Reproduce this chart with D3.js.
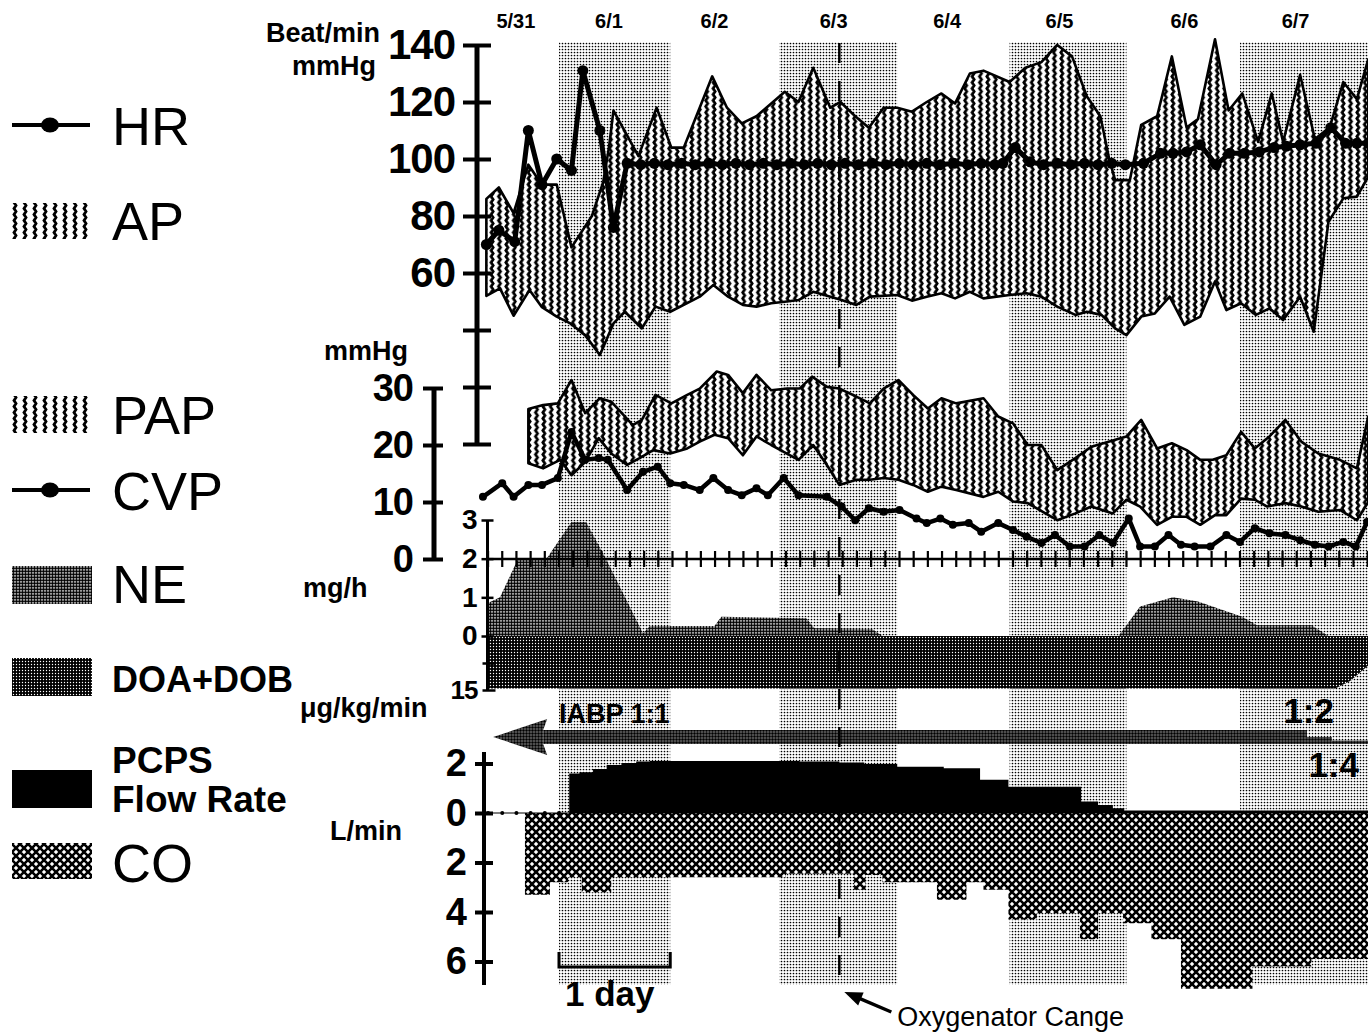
<!DOCTYPE html>
<html>
<head>
<meta charset="utf-8">
<script src="https://cdn.jsdelivr.net/npm/d3@7"></script>
<style>
  body { margin: 0; background: #fff; }
  svg { display: block; }
  text { font-family: "Liberation Sans", Arial, Helvetica, sans-serif; }
</style>
</head>
<body>
<svg id="chart" width="1368" height="1036"></svg>
<script>
// time is in days counted from 5/31 00:00
const dayLabels = ["5/31", "6/1", "6/2", "6/3", "6/4", "6/5", "6/6", "6/7"];
const dayLabelPos = [0.62, 1.44, 2.37, 3.42, 4.42, 5.41, 6.51, 7.49];
const shadedDays = [[1.0, 1.98], [2.94, 3.98], [4.97, 6.0], [7.0, 8.2]];
const oxygenatorChange = 3.47;

// [day, value]
const apSys = [[0.36,86],[0.47,90],[0.60,81],[0.73,98],[0.85,91],[0.98,91],[1.11,69],[1.29,80],[1.39,92],[1.44,104],
  [1.48,117],[1.70,101],[1.86,118],[1.99,104],[2.10,104],[2.35,129],[2.48,118],[2.61,112.5],[2.74,115],[2.99,123.6],
  [3.11,120],[3.24,132],[3.39,118],[3.48,120],[3.61,115],[3.73,111],[3.86,118],[3.98,118],[4.11,116.6],[4.24,120],
  [4.37,123],[4.49,119.5],[4.62,130],[4.74,131],[4.97,127],[5.11,132],[5.25,134],[5.39,140],[5.52,136],[5.65,122],
  [5.77,115],[5.85,99.6],[5.90,92.6],[6.03,92.6],[6.13,112],[6.27,115],[6.40,136],[6.53,111],[6.63,114],[6.78,142],
  [6.90,117],[7.02,123],[7.16,106],[7.28,123],[7.38,106],[7.53,129.5],[7.66,107],[7.79,111],[7.91,127],[8.03,121],[8.13,135]];
const apDia = [[0.36,52],[0.48,54.6],[0.60,45],[0.74,54],[0.85,48],[0.98,44.7],[1.10,42.3],[1.23,38.2],[1.36,31.2],[1.48,42.3],
  [1.58,46.4],[1.73,40.6],[1.85,48.2],[1.98,46.4],[2.24,51.7],[2.36,55.8],[2.49,51.7],[2.62,48.8],[2.74,48.2],[2.87,49.4],
  [2.99,49.9],[3.11,50.5],[3.24,53.4],[3.49,50.5],[3.62,48.8],[3.74,51.7],[3.98,52.3],[4.11,50.3],[4.24,51.7],[4.37,52.9],
  [4.49,51.1],[4.62,53.4],[4.74,51.1],[4.97,52.3],[5.12,52.9],[5.25,51.7],[5.39,48.2],[5.55,45.3],[5.65,46.4],[5.78,45.3],
  [5.90,40.6],[6.00,38.2],[6.13,44.7],[6.25,45.8],[6.38,51.7],[6.51,41.8],[6.65,44.7],[6.78,57],[6.88,47],[7.01,49.4],
  [7.14,45.3],[7.26,47.6],[7.38,43.5],[7.53,51.7],[7.65,39.4],[7.78,78],[7.91,86.2],[8.03,86.8],[8.13,93.8]];
const hr = [[0.36,70],[0.47,75],[0.61,71],[0.73,110],[0.85,91],[0.98,100],[1.11,96],[1.21,131],[1.36,110],[1.48,76],
  [1.60,98.5],[1.72,98],[1.84,98.5],[1.96,98],[2.08,98.5],[2.20,98],[2.32,98.5],[2.44,98],[2.56,98.5],[2.68,98],
  [2.80,98.5],[2.92,98],[3.04,98.5],[3.16,98],[3.28,98.5],[3.40,98],[3.52,98.5],[3.64,98],[3.76,98.5],[3.88,98],
  [4.00,98.5],[4.12,98],[4.24,98.5],[4.36,98],[4.48,98.5],[4.60,98],[4.72,98.5],[4.84,98],[4.91,98.5],[5.02,104],
  [5.15,99],[5.27,98],[5.39,98.5],[5.51,98],[5.63,98.5],[5.75,98],[5.87,98.5],[5.99,98],[6.15,98.5],[6.30,102],
  [6.41,102],[6.53,102.5],[6.65,105],[6.79,98],[6.91,102],[7.04,102],[7.17,102.5],[7.30,104],[7.41,104.5],[7.53,105],
  [7.67,105.5],[7.80,111],[7.93,105.5],[8.03,105.5],[8.13,105.5]];

const papSys = [[0.73,26.3],[0.86,27],[0.99,27.3],[1.11,31.4],[1.23,25.6],[1.36,28.2],[1.46,27.6],[1.65,23.5],[1.73,24.4],
  [1.85,28.8],[1.99,27.3],[2.13,28.8],[2.24,29.9],[2.39,32.9],[2.49,32.3],[2.62,29.1],[2.74,32.3],[2.87,29.6],[3.01,29.9],
  [3.12,29.9],[3.23,32],[3.36,30.2],[3.47,29.9],[3.62,28.5],[3.74,27.3],[3.86,29.9],[3.99,31.4],[4.12,28.8],[4.25,26.4],
  [4.37,28.2],[4.50,27.3],[4.74,28.2],[4.87,25],[5.00,23.8],[5.13,20],[5.25,20],[5.39,15.6],[5.55,17.7],[5.69,19.7],
  [5.85,20.6],[6.00,21.5],[6.13,24.4],[6.27,19.4],[6.40,20.3],[6.53,19.1],[6.65,17.4],[6.76,17.4],[6.88,18.2],[7.01,22.3],
  [7.13,19.4],[7.26,21.5],[7.40,24.4],[7.54,20.6],[7.69,18.5],[7.88,17.4],[8.03,15.9],[8.13,25]];
const papDia = [[0.73,16.8],[0.86,15.9],[1.01,17.4],[1.11,14.7],[1.23,17],[1.35,21.2],[1.46,18.5],[1.60,16.5],[1.71,17.7],
  [1.83,19.1],[1.98,18.5],[2.13,19.4],[2.24,20.6],[2.37,21.8],[2.49,21.2],[2.62,18.2],[2.74,21.5],[2.87,20],[2.98,18.8],
  [3.11,17.4],[3.24,20],[3.36,16.5],[3.47,13],[3.62,13.9],[3.74,13.9],[3.86,14.2],[3.99,13.9],[4.12,13],[4.25,11.8],
  [4.37,12.7],[4.50,12.1],[4.74,10.9],[4.87,11.8],[5.00,10.1],[5.13,9.8],[5.39,6.8],[5.55,8],[5.69,9.2],[5.88,8],
  [6.00,10.4],[6.12,9.2],[6.27,6],[6.40,7.4],[6.53,7.4],[6.65,6],[6.78,7.7],[6.88,7.7],[7.01,10.6],[7.13,10.4],
  [7.24,9.2],[7.40,9.8],[7.54,9.2],[7.69,8.3],[7.88,8.6],[8.03,6.8],[8.13,10]];
const cvp = [[0.33,10.9],[0.50,13.3],[0.60,10.9],[0.73,13],[0.85,13],[0.99,14.2],[1.11,22.3],[1.23,17.4],[1.35,17.7],
  [1.43,17.4],[1.60,12.1],[1.74,15.3],[1.87,16.2],[1.98,13.3],[2.10,13],[2.24,12.1],[2.36,14.2],[2.49,12.1],[2.61,11.2],
  [2.74,12.4],[2.84,11.2],[2.98,14.2],[3.11,11.2],[3.36,10.9],[3.49,9.2],[3.61,6.8],[3.73,8.9],[3.86,8.3],[4.00,8.6],
  [4.15,7.1],[4.24,6.3],[4.36,7.1],[4.47,6],[4.61,6.3],[4.72,4.8],[4.87,6.3],[5.00,5.1],[5.12,3.9],[5.25,2.8],
  [5.37,4.2],[5.50,2.2],[5.63,2.2],[5.76,4.2],[5.88,2.8],[6.02,7.1],[6.12,2.2],[6.25,2.2],[6.37,4.2],[6.48,2.5],
  [6.60,2.2],[6.74,2.2],[6.88,4.2],[7.00,3],[7.13,5.4],[7.26,4.5],[7.40,4.2],[7.53,3.3],[7.66,2.5],[7.78,2.2],
  [7.91,3],[8.02,2.2],[8.12,6.5]];

// mg/h and µg/kg/min
const ne = [[0.37,0.85],[0.48,1.0],[0.64,2.0],[0.89,2.0],[1.11,2.95],[1.24,2.95],[1.42,1.96],[1.74,0.07],[1.80,0.26],
  [2.37,0.26],[2.43,0.5],[3.18,0.46],[3.25,0.2],[3.76,0.18],[3.85,0],[5.93,0],[6.12,0.76],[6.41,1.0],[6.63,0.89],
  [7.02,0.5],[7.15,0.28],[7.63,0.28],[7.78,0],[8.13,0]];
const doaDob = [[0.37,14.6],[7.84,14.6],[7.97,12.5],[8.13,8.2]];

// IABP assist ratio: support fraction 1, 1/2, 1/4
const iabpRatio = ["1:1", "1:2", "1:4"];
const iabpFrom = [0.42, 7.59, 7.81];
const iabpTo = [7.59, 7.81, 8.13];
const iabpSupport = [1, 0.5, 0.25];

// L/min, step values
const pcps = [[1.09,1.6],[1.18,1.65],[1.30,1.78],[1.42,1.94],[1.55,2.02],[1.68,2.08],[1.80,2.1],[3.12,2.08],[3.47,2.04],
  [3.69,1.98],[3.98,1.87],[4.39,1.81],[4.71,1.34],[4.96,1.06],[5.60,0.46],[5.75,0.32],[5.88,0.19],[5.98,0.1],[8.13,0.1]];
const co = [[0.70,3.3],[0.92,2.8],[1.08,2.6],[1.20,3.2],[1.46,2.6],[3.00,2.45],[3.60,3.1],[3.70,2.5],[3.85,2.8],
  [4.33,3.5],[4.59,2.8],[4.74,3.1],[4.96,4.3],[5.21,4.05],[5.59,5.1],[5.75,4.05],[5.97,4.45],[6.22,5.1],[6.48,7.1],
  [7.11,6.2],[7.63,5.9],[8.13,5.9]];

const topTicks = [0, 20, 40, 60, 80, 100, 120, 140];
const papTicks = [0, 10, 20, 30];
const neTicks = [0, 1, 2, 3];
const doaTicks = [7.5, 15];
const flowTicks = [2, 0, -2, -4, -6];

const FONT = '"Liberation Sans", Arial, Helvetica, sans-serif';
const svg = d3.select("#chart");
const defs = svg.append("defs");

const x = d3.scaleLinear().domain([0, 8.128]).range([445.5, 1368]);
const yTop = d3.scaleLinear().domain([0, 140]).range([444, 45]);
const yPap = d3.scaleLinear().domain([0, 30]).range([559, 388]);
const yNE = d3.scaleLinear().domain([0, 3]).range([636, 520]);
const yDoa = d3.scaleLinear().domain([0, 15]).range([636, 690]);
const yFlow = d3.scaleLinear().domain([-6, 2]).range([961.5, 763.5]);
const iabpH = d3.scaleLinear().domain([0, 1]).range([0, 14]);

// fill patterns
function dots(id, size, r, bg, fg) {
  const p = defs.append("pattern").attr("id", id).attr("width", size).attr("height", size)
    .attr("patternUnits", "userSpaceOnUse");
  p.append("rect").attr("width", size).attr("height", size).attr("fill", bg);
  p.append("circle").attr("cx", size / 2).attr("cy", size / 2).attr("r", r).attr("fill", fg);
}
dots("band", 3, 0.85, "#fff", "#000");
dots("ne", 3, 1.45, "#fff", "#000");
dots("arrow", 3, 1.2, "#666", "#000");
dots("doa", 3, 0.7, "#000", "#fff");

// vertical wavy columns
function zigzag(id, w) {
  const p = defs.append("pattern").attr("id", id).attr("width", w).attr("height", 6)
    .attr("patternUnits", "userSpaceOnUse");
  p.append("rect").attr("width", w).attr("height", 6).attr("fill", "#fff");
  const c = w / 2;
  p.append("path").attr("d", `M${c - 1},-1.5L${c + 1},1.5L${c - 1},4.5L${c + 1},7.5`)
    .attr("stroke", "#000").attr("stroke-width", 2.8).attr("fill", "none");
}
zigzag("zz", 7.4);
zigzag("zzL", 10);

const hatch = defs.append("pattern").attr("id", "co").attr("width", 8).attr("height", 8)
  .attr("patternUnits", "userSpaceOnUse");
hatch.append("rect").attr("width", 8).attr("height", 8).attr("fill", "#fff");
hatch.append("path").attr("d", "M-1,-1L9,9M9,-1L-1,9").attr("stroke", "#000").attr("stroke-width", 2.6);

// shaded days
svg.append("g").selectAll("rect").data(shadedDays).join("rect")
  .attr("x", d => x(d[0]))
  .attr("width", d => Math.min(x(d[1]), 1368) - x(d[0]))
  .attr("y", 42).attr("height", 943)
  .attr("fill", "url(#band)");

// date labels
svg.append("g").selectAll("text").data(dayLabels).join("text")
  .attr("x", (d, i) => x(dayLabelPos[i])).attr("y", 28)
  .attr("text-anchor", "middle").attr("font-size", 20).attr("font-weight", "bold")
  .text(d => d);

const lineTop = d3.line().x(d => x(d[0])).y(d => yTop(d[1]));
const linePap = d3.line().x(d => x(d[0])).y(d => yPap(d[1]));

// AP band
svg.append("path")
  .attr("d", lineTop(apSys.concat(apDia.slice().reverse())) + "Z")
  .attr("fill", "url(#zz)").attr("stroke", "#000").attr("stroke-width", 2.6)
  .attr("stroke-linejoin", "round");

// HR
svg.append("path").attr("d", lineTop(hr)).attr("fill", "none")
  .attr("stroke", "#000").attr("stroke-width", 5).attr("stroke-linejoin", "round");
svg.append("g").selectAll("circle").data(hr).join("circle")
  .attr("cx", d => x(d[0])).attr("cy", d => yTop(d[1])).attr("r", 5.5).attr("fill", "#000");

// PAP band
svg.append("path")
  .attr("d", linePap(papSys.concat(papDia.slice().reverse())) + "Z")
  .attr("fill", "url(#zz)").attr("stroke", "#000").attr("stroke-width", 2.6)
  .attr("stroke-linejoin", "round");

// CVP
svg.append("path").attr("d", linePap(cvp)).attr("fill", "none")
  .attr("stroke", "#000").attr("stroke-width", 4.5).attr("stroke-linejoin", "round");
svg.append("g").selectAll("circle").data(cvp).join("circle")
  .attr("cx", d => x(d[0])).attr("cy", d => yPap(d[1])).attr("r", 4).attr("fill", "#000");

// NE and DOA+DOB
svg.append("path")
  .attr("d", d3.area().x(d => x(d[0])).y0(yNE(0)).y1(d => yNE(d[1]))(ne))
  .attr("fill", "url(#ne)");
svg.append("path")
  .attr("d", d3.area().x(d => x(d[0])).y0(yDoa(0)).y1(d => yDoa(d[1]))(doaDob))
  .attr("fill", "url(#doa)");

// 3-hour time axis on CVP zero
const hourTicks = d3.range(0.375, 8.13, 0.125);
const tAxis = svg.append("g");
tAxis.append("line").attr("x1", 487.5).attr("x2", 1368).attr("y1", yPap(0)).attr("y2", yPap(0))
  .attr("stroke", "#000").attr("stroke-width", 2.5);
tAxis.selectAll(".ht").data(hourTicks).join("line").attr("class", "ht")
  .attr("x1", d => x(d)).attr("x2", d => x(d)).attr("y1", yPap(0) - 8).attr("y2", yPap(0) + 8)
  .attr("stroke", "#000").attr("stroke-width", 2.2);

// IABP arrow
const iabp = iabpRatio.map((r, i) => ({ r, from: iabpFrom[i], to: iabpTo[i], s: iabpSupport[i] }));
const shaftBottom = 744;
const tipX = x(iabpFrom[0]);
svg.append("g").selectAll("rect").data(iabp).join("rect")
  .attr("x", d => Math.max(x(d.from), tipX + 50))
  .attr("width", d => x(d.to) - Math.max(x(d.from), tipX + 50))
  .attr("y", d => shaftBottom - iabpH(d.s)).attr("height", d => iabpH(d.s))
  .attr("fill", "url(#arrow)");
svg.append("path")
  .attr("d", `M${tipX},737L${tipX + 54},719L${tipX + 50},730L${tipX + 50},744L${tipX + 54},755Z`)
  .attr("fill", "url(#arrow)");
svg.append("text").attr("x", 559).attr("y", 723).attr("font-size", 27).attr("font-weight", "bold")
  .text("IABP " + iabpRatio[0]);
svg.append("text").attr("x", 1334).attr("y", 723).attr("text-anchor", "end").attr("font-size", 35)
  .attr("font-weight", "bold").text(iabpRatio[1]);
svg.append("text").attr("x", 1359).attr("y", 777).attr("text-anchor", "end").attr("font-size", 35)
  .attr("font-weight", "bold").text(iabpRatio[2]);

// PCPS flow and CO
svg.append("path")
  .attr("d", d3.area().curve(d3.curveStepAfter).x(d => x(d[0])).y0(yFlow(0)).y1(d => yFlow(d[1]))(pcps))
  .attr("fill", "#000");
svg.append("path")
  .attr("d", d3.area().curve(d3.curveStepAfter).x(d => x(d[0])).y0(yFlow(0)).y1(d => yFlow(-d[1]))(co))
  .attr("fill", "url(#co)");
svg.append("line").attr("x1", 484).attr("x2", 1368).attr("y1", yFlow(0)).attr("y2", yFlow(0))
  .attr("stroke", "#000").attr("stroke-width", 1.2);
svg.append("g").selectAll("circle").data(hourTicks.filter(t => t < pcps[0][0])).join("circle")
  .attr("cx", d => x(d)).attr("cy", yFlow(0)).attr("r", 2).attr("fill", "#000");

// axes
function vAxis(scale, xPos, vals, fmt, o) {
  const g = svg.append("g").attr("transform", `translate(${xPos},0)`);
  g.call(d3.axisLeft(scale).tickValues(vals).tickFormat(fmt).tickSizeOuter(0)
    .tickSize(o.tl).tickPadding(o.pad));
  g.attr("font-family", FONT).attr("font-size", o.fs).attr("font-weight", "bold");
  g.select(".domain").remove();
  g.selectAll(".tick line").attr("x1", -o.tl).attr("x2", o.tr).attr("stroke-width", o.tw);
  g.selectAll(".tick text").attr("fill", "#000").attr("letter-spacing", o.ls || 0);
  if (o.y1 !== undefined) {
    g.append("line").attr("y1", o.y1).attr("y2", o.y2).attr("stroke", "#000").attr("stroke-width", o.w);
  }
  return g;
}
vAxis(yTop, 477, topTicks, d => (d >= 60 ? d : ""), { tl: 14, tr: 14, pad: 8, fs: 42, tw: 4, w: 5, y1: 45, y2: 444, ls: -1 });
vAxis(yPap, 434, papTicks, d => d, { tl: 11, tr: 9, pad: 10, fs: 38, tw: 4, w: 5, y1: 388, y2: 559, ls: -1 });
vAxis(yNE, 487.5, neTicks, d => d, { tl: 6, tr: 6, pad: 4, fs: 28, tw: 2.5, w: 3, y1: 520, y2: 690 });
vAxis(yDoa, 487.5, doaTicks, d => (d === 15 ? d : ""), { tl: 5, tr: 8, pad: 5, fs: 26, tw: 2.5, ls: -1 });
vAxis(yFlow, 484, flowTicks, d => Math.abs(d), { tl: 9, tr: 9, pad: 8, fs: 38, tw: 4, w: 4, y1: 752, y2: 985 });

// unit labels
const unitText = (t, xx, yy, anchor) => svg.append("text").attr("x", xx).attr("y", yy)
  .attr("text-anchor", anchor).attr("font-size", 27).attr("font-weight", "bold").text(t);
unitText("Beat/min", 380, 42, "end");
unitText("mmHg", 376, 75, "end");
unitText("mmHg", 408, 360, "end");
unitText("mg/h", 303, 597, "start");
unitText("\u03bcg/kg/min", 300, 717, "start");
unitText("L/min", 330, 840, "start");

// oxygenator change
const ox = x(oxygenatorChange);
svg.append("line").attr("x1", ox).attr("x2", ox).attr("y1", 43).attr("y2", 985)
  .attr("stroke", "#000").attr("stroke-width", 2.5).attr("stroke-dasharray", "20,18");
const tip = [ox + 5, 992], tail = [ox + 52, 1012];
const len = Math.hypot(tail[0] - tip[0], tail[1] - tip[1]);
const ux = (tail[0] - tip[0]) / len, uy = (tail[1] - tip[1]) / len;
svg.append("line").attr("x1", tip[0] + ux * 10).attr("y1", tip[1] + uy * 10)
  .attr("x2", tail[0]).attr("y2", tail[1]).attr("stroke", "#000").attr("stroke-width", 3.5);
svg.append("path").attr("d",
  `M${tip[0]},${tip[1]}L${tip[0] + ux * 18 - uy * 7},${tip[1] + uy * 18 + ux * 7}L${tip[0] + ux * 18 + uy * 7},${tip[1] + uy * 18 - ux * 7}Z`)
  .attr("fill", "#000");
svg.append("text").attr("x", tail[0] + 6).attr("y", 1026).attr("font-size", 27).text("Oxygenator Cange");

// 1 day scale bar
svg.append("path").attr("d", `M${x(1)},952V967H${x(1.98)}V952`).attr("fill", "none")
  .attr("stroke", "#000").attr("stroke-width", 3);
svg.append("text").attr("x", x(1) + 6).attr("y", 1006).attr("font-size", 35).attr("font-weight", "bold").text("1 day");

// legend
const lg = svg.append("g");
function legLine(y) {
  lg.append("line").attr("x1", 12).attr("x2", 90).attr("y1", y).attr("y2", y).attr("stroke", "#000").attr("stroke-width", 4);
  lg.append("ellipse").attr("cx", 50).attr("cy", y).attr("rx", 9).attr("ry", 7.5).attr("fill", "#000");
}
function legBox(y, h, fill) {
  lg.append("rect").attr("x", 12).attr("y", y).attr("width", 80).attr("height", h).attr("fill", fill);
}
function legText(t, y, size, bold) {
  lg.append("text").attr("x", 112).attr("y", y).attr("font-size", size)
    .attr("font-weight", bold ? "bold" : "normal").text(t);
}
legLine(125); legText("HR", 145, 54);
legBox(203, 36, "url(#zzL)"); legText("AP", 240, 54);
legBox(396, 37, "url(#zzL)"); legText("PAP", 434, 54);
legLine(490); legText("CVP", 510, 54);
legBox(566, 38, "url(#ne)"); legText("NE", 603, 54);
legBox(658, 38, "url(#doa)"); legText("DOA+DOB", 692, 36, true);
legBox(770, 38, "#000"); legText("PCPS", 773, 37, true); legText("Flow Rate", 812, 37, true);
legBox(843, 36, "url(#co)"); legText("CO", 882, 54);
</script>
</body>
</html>
